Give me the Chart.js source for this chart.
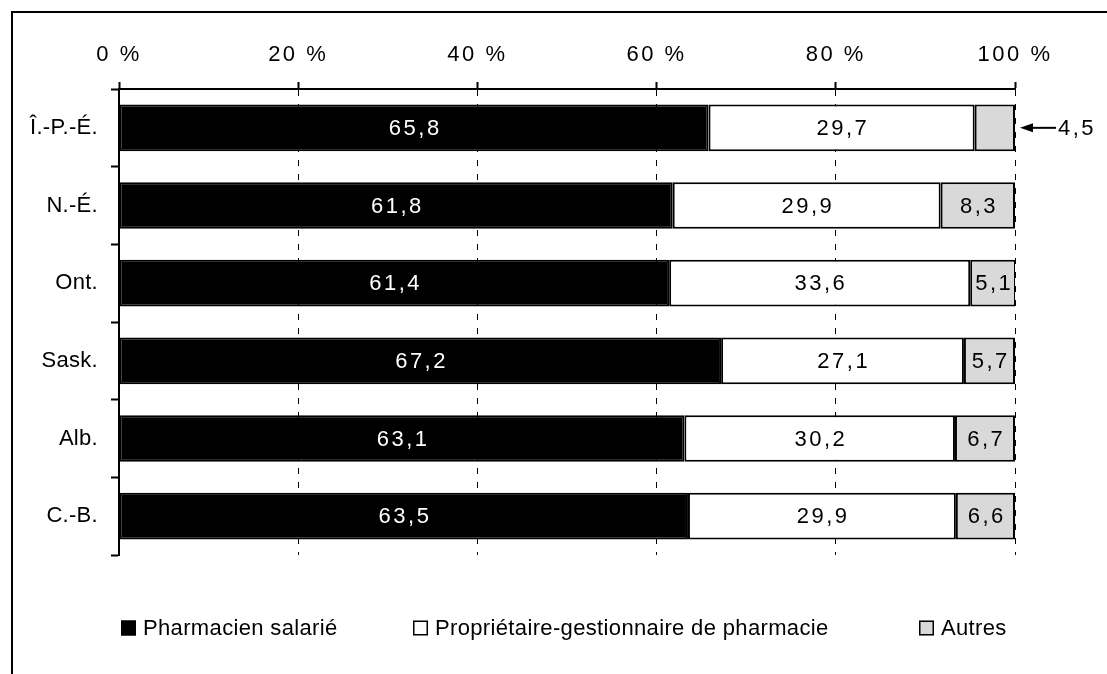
<!DOCTYPE html>
<html>
<head>
<meta charset="utf-8">
<script src="https://cdn.jsdelivr.net/npm/chart.js@4"></script>
<style>
  html, body { margin: 0; padding: 0; background: #fff; overflow: hidden; }
  #wrap { position: relative; width: 1107px; height: 674px; }
  #frame { position: absolute; left: 11px; top: 11px; width: 2000px; height: 2000px;
           border-top: 2px solid #000; border-left: 2px solid #000; pointer-events: none; }
  canvas { position: absolute; left: 0; top: 0; }
</style>
</head>
<body>
<div id="wrap">
  <canvas id="shareChart" width="1107" height="674"></canvas>
  <div id="frame"></div>
</div>
<script>
const provinces = ['Î.-P.-É.', 'N.-É.', 'Ont.', 'Sask.', 'Alb.', 'C.-B.'];
const salaried = [65.8, 61.8, 61.4, 67.2, 63.1, 63.5];
const owners = [29.7, 29.9, 33.6, 27.1, 30.2, 29.9];
const others = [4.5, 8.3, 5.1, 5.7, 6.7, 6.6];
const percentTicks = [0, 20, 40, 60, 80, 100];

const FONT = '"Liberation Sans", Arial, sans-serif';
const fmt = v => v.toFixed(1).replace('.', ',');

// wider tracking on the axis labels, like the original
const spacingPatch = {
    id: 'spacingPatch',
    afterLayout(chart) {
        [['x', '2.5px'], ['y', '0.3px']].forEach(([id, ls]) => {
            const s = chart.scales[id];
            if (s._lsPatched) return;
            const orig = s.drawLabels;
            s.drawLabels = function (area) {
                const c = this.ctx;
                c.save();
                c.letterSpacing = ls;
                orig.call(this, area);
                c.restore();
            };
            s._lsPatched = true;
        });
    }
};

// values in the segments, small ones pushed out with an arrow
const valueLabels = {
    id: 'valueLabels',
    afterDatasetsDraw(chart) {
        const ctx = chart.ctx;
        ctx.save();
        ctx.font = '22px ' + FONT;
        ctx.letterSpacing = '2.5px';
        ctx.textBaseline = 'middle';
        chart.data.datasets.forEach((ds, di) => {
            const meta = chart.getDatasetMeta(di);
            meta.data.forEach((bar, i) => {
                const v = ds.data[i];
                const text = fmt(v);
                const p = bar.getProps(['x', 'y', 'base'], true);
                const w = Math.abs(p.x - p.base);
                const tw = ctx.measureText(text).width;
                if (tw + 5 > w) {
                    const right = chart.chartArea.right;
                    ctx.strokeStyle = '#000';
                    ctx.fillStyle = '#000';
                    ctx.lineWidth = 2;
                    ctx.beginPath();
                    ctx.moveTo(right + 14, p.y);
                    ctx.lineTo(right + 41, p.y);
                    ctx.stroke();
                    ctx.beginPath();
                    ctx.moveTo(right + 5, p.y);
                    ctx.lineTo(right + 18, p.y - 4.5);
                    ctx.lineTo(right + 18, p.y + 4.5);
                    ctx.closePath();
                    ctx.fill();
                    ctx.textAlign = 'left';
                    ctx.fillText(text, right + 43, p.y + 1);
                } else {
                    ctx.textAlign = 'center';
                    ctx.fillStyle = ds.labelColor;
                    ctx.fillText(text, (p.x + p.base) / 2 + 1.25, p.y + 1);
                }
            });
        });
        ctx.restore();
    }
};

const boxLegend = {
    id: 'boxLegend',
    afterDraw(chart, args, opts) {
        const ctx = chart.ctx;
        ctx.save();
        ctx.font = '22px ' + FONT;
        ctx.letterSpacing = '0.35px';
        ctx.textBaseline = 'middle';
        ctx.textAlign = 'left';
        chart.data.datasets.forEach((ds, i) => {
            const x = opts.x[i];
            ctx.fillStyle = ds.backgroundColor;
            ctx.fillRect(x, opts.y - 7.5, 15, 15);
            ctx.strokeStyle = '#000';
            ctx.lineWidth = 1.5;
            ctx.strokeRect(x + 0.75, opts.y - 6.75, 13.5, 13.5);
            ctx.fillStyle = '#000';
            ctx.fillText(ds.label, x + 22, opts.y + 1);
        });
        ctx.restore();
    }
};

const ctx = document.getElementById('shareChart').getContext('2d');
const shareChart = new Chart(ctx, {
    type: 'bar',
    data: {
        labels: provinces,
        datasets: [
            {
                label: 'Pharmacien salarié',
                data: salaried,
                backgroundColor: '#000000',
                borderColor: '#000000',
                labelColor: '#ffffff',
                borderWidth: 2,
                borderSkipped: false
            },
            {
                label: 'Propriétaire-gestionnaire de pharmacie',
                data: owners,
                backgroundColor: '#ffffff',
                borderColor: '#000000',
                labelColor: '#000000',
                borderWidth: 2,
                borderSkipped: false
            },
            {
                label: 'Autres',
                data: others,
                backgroundColor: '#d9d9d9',
                borderColor: '#000000',
                labelColor: '#000000',
                borderWidth: 2,
                borderSkipped: false
            }
        ]
    },
    options: {
        indexAxis: 'y',
        responsive: false,
        animation: false,
        devicePixelRatio: 1,
        barPercentage: 0.6,
        categoryPercentage: 1,
        layout: { padding: { left: 0, top: 0, right: 92, bottom: 119 } },
        font: { family: FONT },
        scales: {
            x: {
                position: 'top',
                stacked: true,
                min: 0,
                max: 100,
                afterBuildTicks: s => { s.ticks = percentTicks.map(v => ({ value: v })); },
                afterFit: s => { s.height = 89; },
                ticks: {
                    callback: v => v + ' %',
                    font: { family: FONT, size: 22 },
                    color: '#000',
                    padding: 14,
                    maxRotation: 0
                },
                grid: {
                    color: '#000',
                    lineWidth: 1,
                    tickLength: 7,
                    tickWidth: 2,
                    tickColor: '#000'
                },
                border: { color: '#000', width: 2, dash: [6, 8] }
            },
            y: {
                stacked: true,
                afterFit: s => { s.width = 119; },
                ticks: {
                    font: { family: FONT, size: 22 },
                    color: '#000',
                    padding: 13
                },
                grid: {
                    offset: true,
                    drawOnChartArea: false,
                    tickLength: 8,
                    tickWidth: 2,
                    tickColor: '#000'
                },
                border: { color: '#000', width: 2 }
            }
        },
        plugins: {
            legend: { display: false },
            tooltip: { enabled: false },
            boxLegend: { x: [121, 413, 919], y: 628 }
        }
    },
    plugins: [spacingPatch, valueLabels, boxLegend]
});
</script>
</body>
</html>
